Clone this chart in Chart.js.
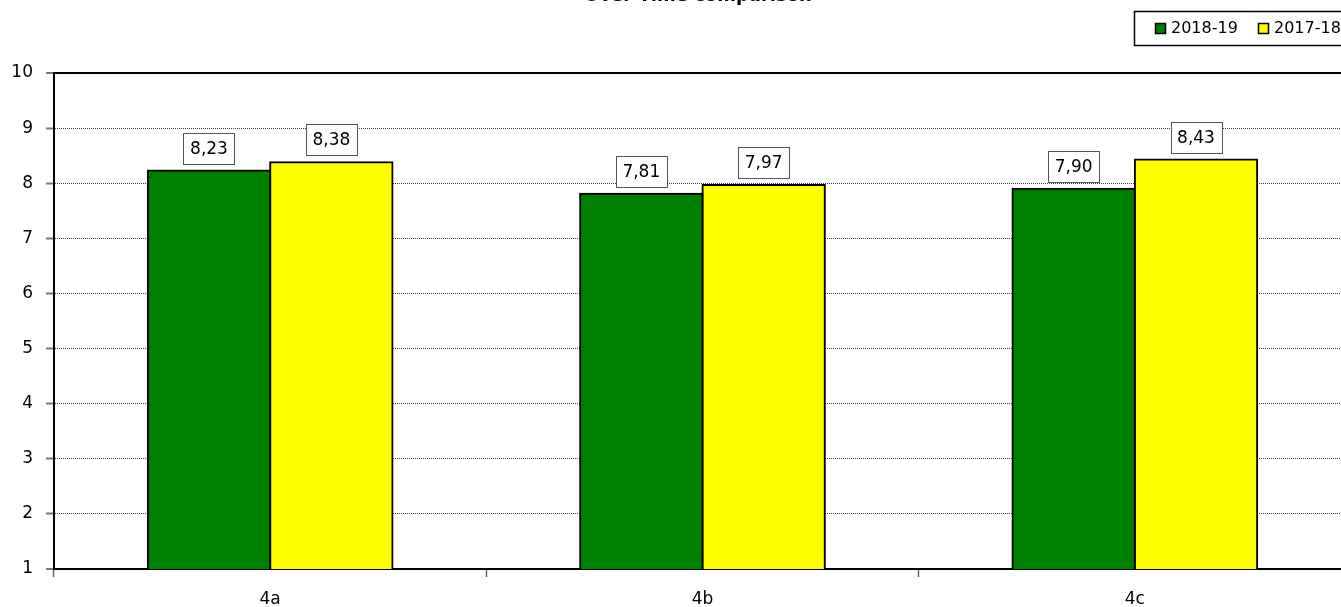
<!DOCTYPE html>
<html>
<head>
<meta charset="utf-8">
<script src="https://cdn.jsdelivr.net/npm/chart.js@4"></script>
<style>
  html, body { margin: 0; padding: 0; background: #fff; overflow: hidden; }
  #wrap { width: 1341px; height: 607px; overflow: hidden; position: relative; }
  canvas { display: block; }
</style>
</head>
<body>
<div id="wrap">
  <canvas id="chart" width="1352" height="607" style="width:1352px;height:607px"></canvas>
</div>
<script>
// dữ liệu biểu đồ
const categories = ['4a', '4b', '4c'];
const seriesNames = ['2018-19', '2017-18'];
const values2018 = [8.23, 7.81, 7.90];
const values2017 = [8.38, 7.97, 8.43];
const seriesColors = ['#008000', '#ffff00'];
const chartTitle = 'Over Time comparison';

const FONT = '"DejaVu Sans", sans-serif';

// tiêu đề + chú giải + khung trên
const decorPlugin = {
    id: 'decor',
    afterDraw(chart) {
        const ctx = chart.ctx;
        const area = chart.chartArea;
        ctx.save();
        // đường viền trên của vùng vẽ
        ctx.strokeStyle = '#000';
        ctx.lineWidth = 2;
        ctx.beginPath();
        ctx.moveTo(area.left, area.top);
        ctx.lineTo(area.right + 2, area.top);
        ctx.stroke();

        // tiêu đề (bị cắt ở mép trên)
        ctx.fillStyle = '#000';
        ctx.font = 'bold 18px ' + FONT;
        ctx.textAlign = 'center';
        ctx.textBaseline = 'alphabetic';
        ctx.fillText(chartTitle, 698, 1);

        // chú giải
        ctx.lineWidth = 1.5;
        ctx.strokeStyle = '#000';
        ctx.fillStyle = '#fff';
        ctx.fillRect(1134, 11, 240, 34);
        ctx.strokeRect(1134.5, 11.5, 240, 34);
        const items = [{ x: 1155, text: seriesNames[0], color: seriesColors[0] },
                       { x: 1258, text: seriesNames[1], color: seriesColors[1] }];
        ctx.font = '16px ' + FONT;
        ctx.textAlign = 'left';
        ctx.textBaseline = 'middle';
        items.forEach(it => {
            ctx.fillStyle = it.color;
            ctx.fillRect(it.x, 23, 10, 10);
            ctx.lineWidth = 1.5;
            ctx.strokeRect(it.x + 0.5, 23.5, 10, 10);
            ctx.fillStyle = '#000';
            ctx.fillText(it.text, it.x + 16, 29);
        });
        ctx.restore();
    }
};

// nhãn giá trị trong ô trắng
const labelPlugin = {
    id: 'valueLabels',
    afterDatasetsDraw(chart) {
        const ctx = chart.ctx;
        ctx.save();
        ctx.font = '17px ' + FONT;
        ctx.textAlign = 'center';
        ctx.textBaseline = 'middle';
        chart.data.datasets.forEach((ds, i) => {
            chart.getDatasetMeta(i).data.forEach((bar, j) => {
                const text = ds.data[j].toFixed(2).replace('.', ',');
                const w = 51, h = 31;
                const x = Math.round(bar.x - w / 2) + 0.5;
                const y = Math.round(bar.y - 7 - h) + 0.5;
                ctx.fillStyle = '#fff';
                ctx.fillRect(x, y, w, h);
                ctx.strokeStyle = '#555';
                ctx.lineWidth = 1;
                ctx.strokeRect(x, y, w, h);
                ctx.fillStyle = '#000';
                ctx.fillText(text, bar.x, y + h / 2 + 1);
            });
        });
        ctx.restore();
    }
};

const ctx = document.getElementById('chart').getContext('2d');
new Chart(ctx, {
    type: 'bar',
    data: {
        labels: categories,
        datasets: [
            { label: seriesNames[0], data: values2018, backgroundColor: seriesColors[0], borderColor: '#000', borderWidth: 2, borderSkipped: 'bottom', inflateAmount: 1 },
            { label: seriesNames[1], data: values2017, backgroundColor: seriesColors[1], borderColor: '#000', borderWidth: 2, borderSkipped: 'bottom', inflateAmount: 1 }
        ]
    },
    options: {
        responsive: false,
        animation: false,
        devicePixelRatio: 1,
        layout: { padding: { top: 73, right: 1, left: 0, bottom: 0 } },
        datasets: { bar: { categoryPercentage: 0.566, barPercentage: 1 } },
        plugins: { legend: { display: false }, title: { display: false }, tooltip: { enabled: false } },
        scales: {
            x: {
                afterFit(scale) { scale.height = 38; },
                grid: { offset: true, drawOnChartArea: false, drawTicks: true, tickLength: 8, tickColor: '#666', tickWidth: 1.5 },
                border: { display: true, color: '#000', width: 2 },
                ticks: { color: '#000', font: { family: FONT, size: 17 }, padding: 12 }
            },
            y: {
                min: 1,
                max: 10,
                afterFit(scale) { scale.width = 54; },
                grid: {
                    color: '#444',
                    lineWidth: c => (c.tick && (c.tick.value === 1 || c.tick.value === 10)) ? 0 : 1,
                    drawTicks: true,
                    tickLength: 8,
                    tickColor: '#777',
                    tickWidth: 2,
                    tickBorderDash: []
                },
                border: { display: true, color: '#000', width: 2, dash: [1, 1] },
                ticks: { stepSize: 1, color: '#000', font: { family: FONT, size: 17 }, padding: 13 }
            }
        }
    },
    plugins: [labelPlugin, decorPlugin]
});
</script>
</body>
</html>
